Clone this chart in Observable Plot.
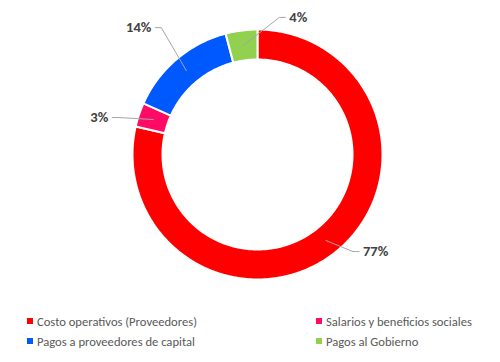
<!DOCTYPE html>
<html>
<head>
<meta charset="utf-8">
<script src="https://cdn.jsdelivr.net/npm/d3@7"></script>
<script src="https://cdn.jsdelivr.net/npm/@observablehq/plot@0.6"></script>
<style>
  html, body { margin: 0; padding: 0; background: #fff; }
  #wrap { width: 500px; height: 362px; position: relative; font-family: Calibri, Carlito, "Liberation Sans", Arial, sans-serif; }
  #legend { position: relative; width: 500px; height: 62px; }
  .item { position: absolute; display: flex; align-items: center; font-size: 12.6px; color: #595959; white-space: nowrap; }
  .sw { width: 6px; height: 6px; margin-right: 4px; }
</style>
</head>
<body>
<div id="wrap"><div id="chart"></div><div id="legend"></div></div>
<script>
// ---- data ----
const categories = ["Costo operativos (Proveedores)", "Salarios y beneficios sociales", "Pagos a proveedores de capital", "Pagos al Gobierno"];
const shares = [78.6, 3.1, 14.2, 4.1];
const labels = ["77%", "3%", "14%", "4%"];
const colors = ["#ff0000", "#ff0a64", "#0058ff", "#92d050"];

// ---- layout ----
const outerR = 125, innerR = 95, leaderR = 110;
// label offset from leader start point (pixels)
const labelOffsets = [[37, 11], [-45, -2], [-35, -43], [46, -28]];
const legendPos = [[27, 21], [316, 21], [27, 41], [316, 41]];

const arcs = d3.pie().sort(null).value(d => d)(shares);
const pt = (r, a) => ({x: r * Math.sin(a), y: -r * Math.cos(a)});

const ring = [];
arcs.forEach((a, i) => {
  const n = Math.max(2, Math.ceil((a.endAngle - a.startAngle) / (2 * Math.PI) * 360));
  const pts = [];
  for (let k = 0; k <= n; k++) pts.push(pt(outerR, a.startAngle + (a.endAngle - a.startAngle) * k / n));
  for (let k = n; k >= 0; k--) pts.push(pt(innerR, a.startAngle + (a.endAngle - a.startAngle) * k / n));
  pts.push(pts[0]);
  pts.forEach(p => ring.push({...p, cat: categories[i]}));
});

const leaders = [], labelRows = [];
arcs.forEach((a, i) => {
  const mid = (a.startAngle + a.endAngle) / 2;
  const p = pt(leaderR, mid);
  const lx = p.x + labelOffsets[i][0], ly = p.y + labelOffsets[i][1];
  const right = labelOffsets[i][0] > 0;
  const s = right ? -1 : 1;
  leaders.push({id: i, x: p.x, y: p.y});
  leaders.push({id: i, x: lx + s * 10, y: ly});
  leaders.push({id: i, x: lx + s * 4, y: ly});
  labelRows.push({x: lx, y: ly, text: labels[i], right});
});

const chart = Plot.plot({
  width: 500, height: 300, margin: 0,
  style: {fontFamily: 'Calibri, Carlito, "Liberation Sans", Arial, sans-serif', background: "#fff"},
  x: {domain: [-257, 243], range: [0, 500], axis: null},
  y: {domain: [-154, 146], range: [0, 300], axis: null},
  color: {domain: categories, range: colors},
  marks: [
    Plot.line(ring, {x: "x", y: "y", z: "cat", fill: "cat", stroke: "white", strokeWidth: 2, curve: "linear"}),
    Plot.line(leaders, {x: "x", y: "y", z: "id", stroke: "#a6a6a6", strokeWidth: 1, curve: "linear"}),
    Plot.text(labelRows.filter(d => d.right), {x: "x", y: "y", text: "text", textAnchor: "start", fontSize: 14.5, fontWeight: "bold", fill: "#404040"}),
    Plot.text(labelRows.filter(d => !d.right), {x: "x", y: "y", text: "text", textAnchor: "end", fontSize: 14.5, fontWeight: "bold", fill: "#404040"})
  ]
});
document.getElementById("chart").appendChild(chart);

const legend = document.getElementById("legend");
categories.forEach((c, i) => {
  const it = document.createElement("div");
  it.className = "item";
  it.style.left = legendPos[i][0] + "px";
  it.style.top = (legendPos[i][1] - 8) + "px";
  it.style.height = "16px";
  const sw = document.createElement("span");
  sw.className = "sw";
  sw.style.background = colors[i];
  it.appendChild(sw);
  it.appendChild(document.createTextNode(c));
  legend.appendChild(it);
});
</script>
</body>
</html>
